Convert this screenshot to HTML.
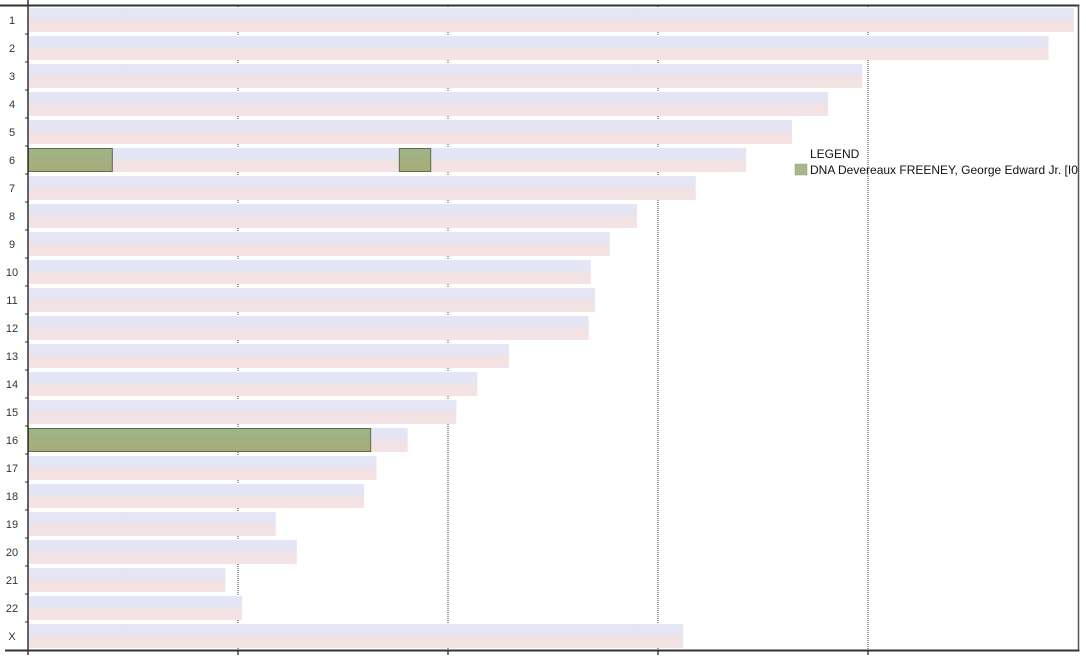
<!DOCTYPE html>
<html><head><meta charset="utf-8"><style>
body{margin:0;background:#fff;font-family:"Liberation Sans",sans-serif}
</style></head><body>
<svg id="c" width="1086" height="655" xmlns="http://www.w3.org/2000/svg">
<defs>
<linearGradient id="band" x1="0" y1="0" x2="0" y2="1">
<stop offset="0" stop-color="#e3e6f7"/><stop offset="0.5" stop-color="#e6e4f2"/><stop offset="0.5" stop-color="#f2e2e4"/><stop offset="1" stop-color="#f3e3e5"/>
</linearGradient>
<linearGradient id="seg" x1="0" y1="0" x2="0" y2="1">
<stop offset="0" stop-color="#9db58a"/><stop offset="1" stop-color="#a8ab76"/>
</linearGradient>
</defs>
</svg>
<script>
const chromosomes=["1","2","3","4","5","6","7","8","9","10","11","12","13","14","15","16","17","18","19","20","21","22","X"];
const lengths=[249,243,198.6,190.5,181.9,171,159,145,138.5,134,135,133.5,114.5,107,102,90.4,83,80,59,64,47,51,156];
const segChrom=["6","6","16"];
const segStart=[0,88.3,0];
const segEnd=[20.2,96,81.7];
const gridTicks=[50,100,150,200];
const svg=document.getElementById('c');
const NS="http://www.w3.org/2000/svg";
const x0=28,pxPer=4.2,rowTop=8,pitch=28,bandH=24;
const xs=v=>x0+v*pxPer;
const ys=i=>rowTop+i*pitch;
function mk(t,a){const e=document.createElementNS(NS,t);for(const k in a)e.setAttribute(k,a[k]);svg.appendChild(e);return e;}
gridTicks.forEach(t=>{
 const g=mk('line',{x1:xs(t),x2:xs(t),y1:6,y2:650,stroke:'#444','stroke-width':1,'stroke-dasharray':'1,1'});
 
 
 const tk=mk('line',{x1:xs(t),x2:xs(t),y1:650,y2:655,stroke:'#444','stroke-width':1.5});
 
 
});
chromosomes.forEach((c,i)=>{
 const r=mk('rect',{x:x0,y:ys(i),width:lengths[i]*pxPer,height:bandH,fill:'url(#band)'});
 
 
 const tx=mk('text',{x:12,y:ys(i)+16,'font-size':11,fill:'#333','text-anchor':'middle'});
 tx.textContent=c;
 
 
 const tk=mk('line',{x1:x0-3,x2:x0+1,y1:ys(i)-2,y2:ys(i)-2,stroke:'#333','stroke-width':1});
 
 
});
segChrom.forEach((c,j)=>{
 const i=chromosomes.indexOf(c);
 const r=mk('rect',{x:xs(segStart[j])+0.5,y:ys(i)+0.5,width:(segEnd[j]-segStart[j])*pxPer-1,height:bandH-1,fill:'url(#seg)',stroke:'#5e6e4e','stroke-width':1});
 
 
});
const a1=mk('line',{x1:0,x2:1086,y1:5.5,y2:5.5,stroke:'#333','stroke-width':2});

const a2=mk('line',{x1:5,x2:1086,y1:650.5,y2:650.5,stroke:'#333','stroke-width':2});

const a3=mk('line',{x1:28,x2:28,y1:0,y2:655,stroke:'#333','stroke-width':1.5});

const a4=mk('line',{x1:1078.5,x2:1078.5,y1:5,y2:650,stroke:'#555','stroke-width':1.5});

const lt=mk('text',{x:810,y:158,'font-size':12,fill:'#111'});lt.textContent='LEGEND';

const sw=mk('rect',{x:795,y:164,width:12,height:11,fill:'#a3b98c',stroke:'#8fa57a','stroke-width':0.5});

const le=mk('text',{x:810,y:174,'font-size':12,fill:'#111'});le.textContent='DNA Devereaux FREENEY, George Edward Jr. [I0';

const cover=mk('rect',{x:1079.5,y:0,width:7,height:655,fill:'#fff'});

</script>
</body></html>
